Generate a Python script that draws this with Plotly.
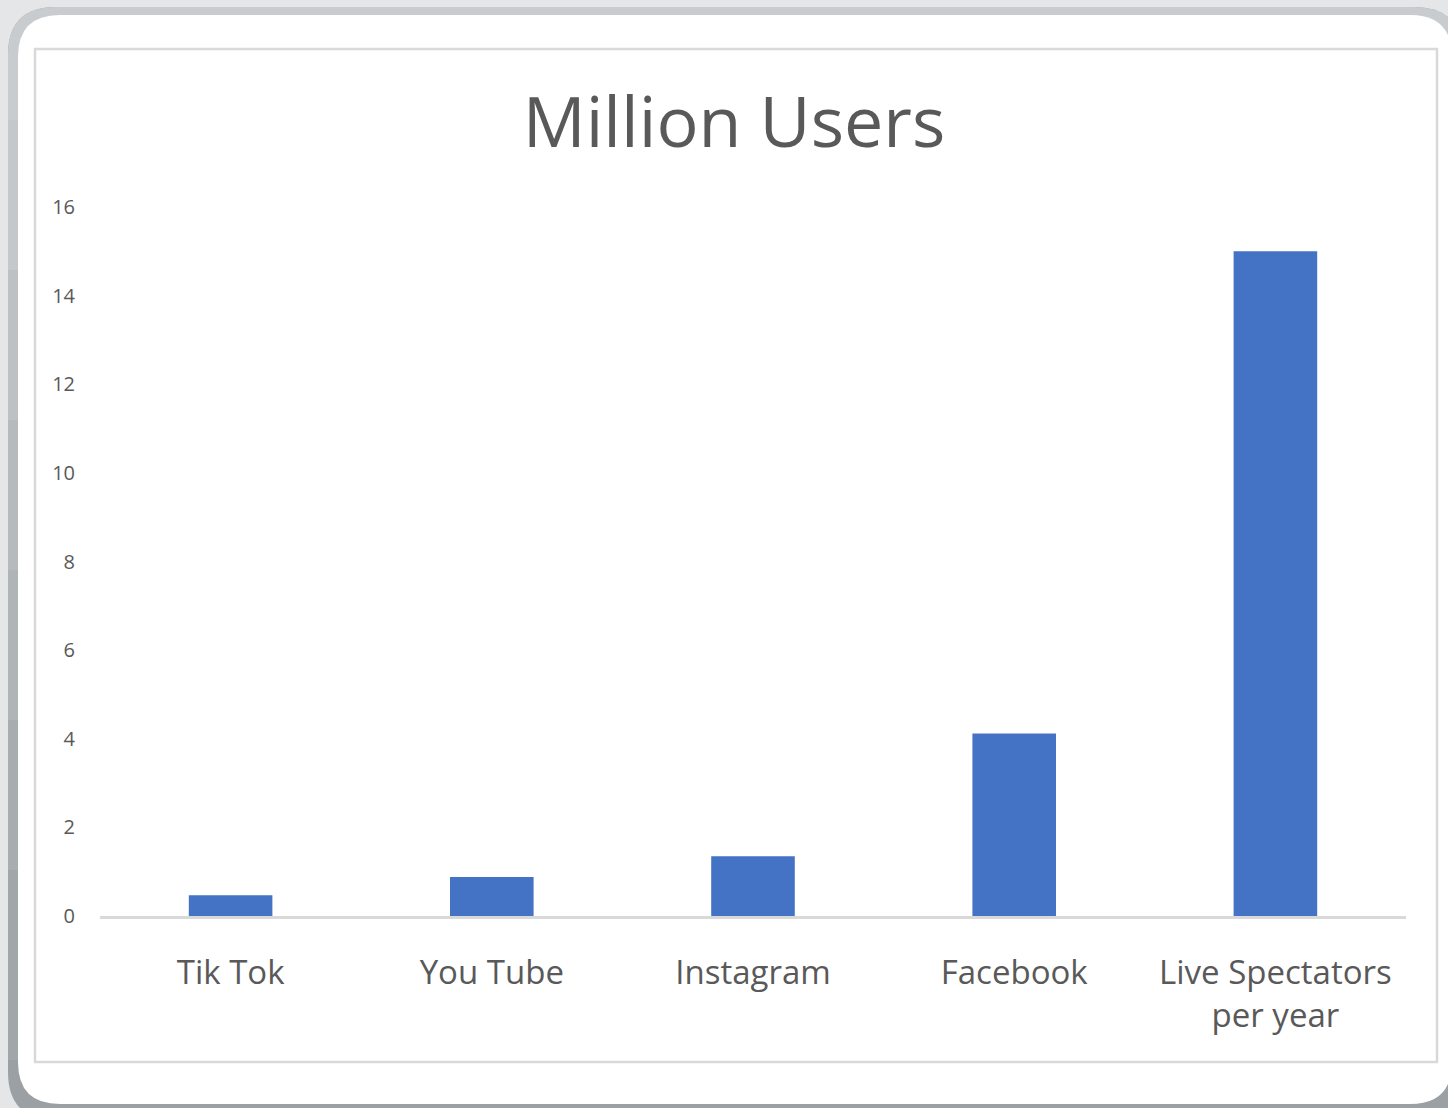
import plotly.graph_objects as go

categories = ["Tik Tok", "You Tube", "Instagram", "Facebook", "Live Spectators<br>per year"]
values = [0.47, 0.88, 1.35, 4.12, 15.0]
y_ticks = [0, 2, 4, 6, 8, 10, 12, 14, 16]

W, H = 1448, 1108
TEXT = "#595959"
FONT = "Open Sans"


def px(x):
    return x / W


def py(y):
    return 1 - y / H


def rrect_path(x0, y0, x1, y1, r, round_bottom=True, round_top=True):
    pts = []
    if round_top:
        pts.append(f"M {px(x0 + r)},{py(y0)}")
        pts.append(f"L {px(x1 - r)},{py(y0)}")
        pts.append(f"Q {px(x1)},{py(y0)} {px(x1)},{py(y0 + r)}")
    else:
        pts.append(f"M {px(x0)},{py(y0)}")
        pts.append(f"L {px(x1)},{py(y0)}")
    if round_bottom:
        pts.append(f"L {px(x1)},{py(y1 - r)}")
        pts.append(f"Q {px(x1)},{py(y1)} {px(x1 - r)},{py(y1)}")
        pts.append(f"L {px(x0 + r)},{py(y1)}")
        pts.append(f"Q {px(x0)},{py(y1)} {px(x0)},{py(y1 - r)}")
    else:
        pts.append(f"L {px(x1)},{py(y1)}")
        pts.append(f"L {px(x0)},{py(y1)}")
    if round_top:
        pts.append(f"L {px(x0)},{py(y0 + r)}")
        pts.append(f"Q {px(x0)},{py(y0)} {px(x0 + r)},{py(y0)}")
    pts.append("Z")
    return " ".join(pts)


shapes = []
# outer ring (dark, bottom colour)
shapes.append(dict(type="path", xref="paper", yref="paper", layer="below",
                   path=rrect_path(8, 7, 1462, 1120, 48),
                   fillcolor="#9aa0a3", line=dict(width=0)))
# light top part of ring
shapes.append(dict(type="path", xref="paper", yref="paper", layer="below",
                   path=rrect_path(8, 7, 1462, 120, 48, round_bottom=False),
                   fillcolor="#c9cccf", line=dict(width=0)))
# gradient bands on the straight sides
band_cols = ["#c4c8ca", "#bdc1c4", "#b6babd", "#afb4b7", "#a8adb0", "#a1a6a9"]
band_edges = [120, 270, 420, 570, 720, 870, 1060]
for i, c in enumerate(band_cols):
    shapes.append(dict(type="rect", xref="paper", yref="paper", layer="below",
                       x0=px(8), x1=px(1462), y0=py(band_edges[i]), y1=py(band_edges[i + 1]),
                       fillcolor=c, line=dict(width=0)))
# white card
shapes.append(dict(type="path", xref="paper", yref="paper", layer="below",
                   path=rrect_path(18, 15, 1452, 1104, 42),
                   fillcolor="#ffffff", line=dict(width=0)))
# chart area border
shapes.append(dict(type="rect", xref="paper", yref="paper", layer="below",
                   x0=px(35), x1=px(1437), y0=py(1062), y1=py(49),
                   fillcolor="rgba(0,0,0,0)", line=dict(color="#d9d9d9", width=2.5)))

fig = go.Figure()
fig.add_trace(go.Bar(x=categories, y=values, marker=dict(color="#4472c4", line=dict(width=0)),
                     hoverinfo="x+y"))

fig.update_layout(
    template="none",
    width=W, height=H,
    margin=dict(l=0, r=0, t=0, b=0, pad=0, autoexpand=False),
    paper_bgcolor="#e4e6e7",
    plot_bgcolor="rgba(0,0,0,0)",
    showlegend=False,
    bargap=0.68,
    shapes=shapes,
    font=dict(family=FONT, color=TEXT),
    title=dict(text="Million Users", x=px(734), xanchor="center", xref="paper",
               y=py(122), yanchor="middle", yref="paper",
               font=dict(family=FONT, size=70, color=TEXT)),
    xaxis=dict(domain=[px(100), px(1406)], showgrid=False, zeroline=False,
               automargin=False,
               showline=True, linecolor="#d9d9d9", linewidth=2.5,
               ticks="", tickfont=dict(family=FONT, size=33, color=TEXT),
               ticklabelstandoff=26, fixedrange=True),
    yaxis=dict(domain=[py(916), py(207)], range=[0, 16], tickvals=y_ticks,
               automargin=False,
               showgrid=False, zeroline=False, showline=False, ticks="",
               tickfont=dict(family=FONT, size=20, color=TEXT),
               ticklabelstandoff=24, fixedrange=True),
)

fig.write_html("out.html")
